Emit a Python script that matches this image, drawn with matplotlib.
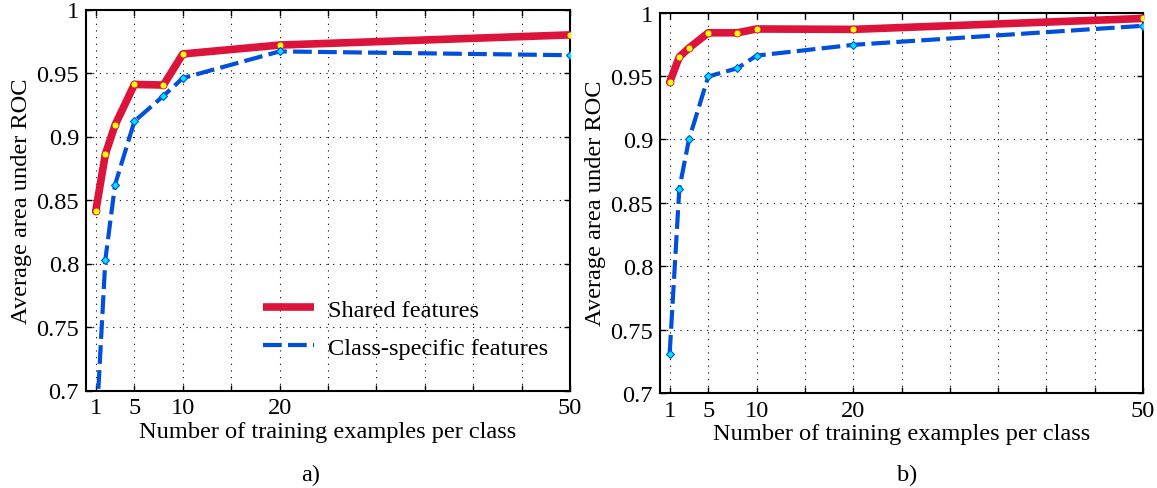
import matplotlib
matplotlib.use("Agg")
import matplotlib.pyplot as plt
from matplotlib.lines import Line2D

plt.rcParams['font.family'] = ['Liberation Serif', 'DejaVu Serif']
plt.rcParams['mathtext.fontset'] = 'stix'

# ---- data ----
n_examples = [1, 2, 3, 5, 8, 10, 20, 50]
a_shared = [0.841, 0.886, 0.909, 0.941, 0.9405, 0.965, 0.972, 0.980]
a_specific = [0.662, 0.803, 0.862, 0.912, 0.932, 0.946, 0.967, 0.964]
b_shared = [0.945, 0.965, 0.972, 0.984, 0.984, 0.987, 0.9867, 0.9953]
b_specific = [0.731, 0.861, 0.900, 0.9496, 0.956, 0.966, 0.9745, 0.9895]

xtick_pos = [1, 5, 10, 15, 20, 25, 30, 35, 40, 45, 50]
xtick_lbl = ['1', '5', '10', '', '20', '', '', '', '', '', '50']
ytick_pos = [0.7, 0.75, 0.8, 0.85, 0.9, 0.95, 1.0]
ytick_lbl = ['0.7', '0.75', '0.8', '0.85', '0.9', '0.95', '1']
series_labels = ['Shared features', 'Class-specific features']
captions = ['a)', 'b)']

RED = '#DC143C'
BLUE = '#0050DC'
DASH = (0, (4.5, 1.5))
FS = 17.6

W, H = 1157, 489
fig = plt.figure(figsize=(W / 100, H / 100), dpi=100)

def frac(l, r, t, b):
    return [l / W, 1 - b / H, (r - l) / W, (b - t) / H]

axA = fig.add_axes(frac(86, 570, 10.5, 391.5))
axB = fig.add_axes(frac(660, 1143, 13.5, 394))

for ax, sh, sp in [(axA, a_shared, a_specific), (axB, b_shared, b_specific)]:
    ax.plot(n_examples, sh, color=RED, lw=5.5, solid_capstyle='round',
            solid_joinstyle='round', zorder=3)
    ax.plot(n_examples, sh, ls='none', marker='o', ms=5, mfc='#FFFF00',
            mec=RED, mew=0.6, zorder=4)
    ax.plot(n_examples, sp, color=BLUE, lw=3, ls=DASH,
            dash_capstyle='butt', zorder=5)
    ax.plot(n_examples, sp, ls='none', marker='D', ms=4.5, mfc='#00E5FF',
            mec=BLUE, mew=0.8, zorder=6)
    ax.set_xlim(0, 50)
    ax.set_ylim(0.7, 1.0)
    ax.set_xticks(xtick_pos)
    ax.set_xticklabels(xtick_lbl)
    ax.set_yticks(ytick_pos)
    ax.set_yticklabels(ytick_lbl)
    ax.tick_params(direction='in', top=True, right=True, length=4,
                   width=1, labelsize=FS, pad=5)
    ax.grid(True, color='black', ls=(0, (1, 5)), lw=0.8)
    for s in ax.spines.values():
        s.set_linewidth(1.5)
    ax.set_xlabel('Number of training examples per class', fontsize=FS, labelpad=1.5)
    ax.set_ylabel('Average area under ROC', fontsize=FS, labelpad=3)

handles = [Line2D([], [], color=RED, lw=5.5, solid_capstyle='butt'),
           Line2D([], [], color=BLUE, lw=3, ls=DASH)]
axA.legend(handles, series_labels, loc='lower right', frameon=False,
           fontsize=FS, handlelength=2.1, handletextpad=0.55,
           bbox_to_anchor=(1.0, 0.025), labelspacing=0.65)

fig.text(311 / W, 1 - 475 / H, captions[0], ha='center', va='center', fontsize=FS)
fig.text(907 / W, 1 - 475 / H, captions[1], ha='center', va='center', fontsize=FS)

fig.savefig('out.png', dpi=100)
